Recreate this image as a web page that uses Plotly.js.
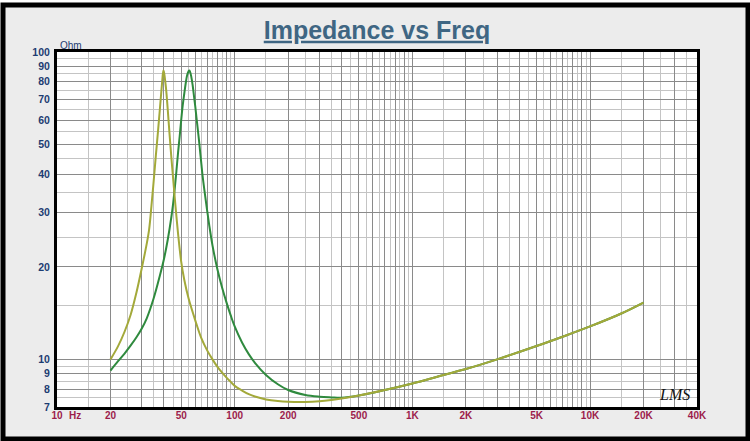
<!DOCTYPE html>
<html>
<head>
<meta charset="utf-8">
<script src="https://cdn.plot.ly/plotly-3.0.1.min.js"></script>
<style>html,body{margin:0;padding:0;background:#fff;}#chart{width:750px;height:441px;}</style>
</head>
<body>
<div id="chart"></div>
<script>
// Yellow curve (lower resonance)
var freqA = [20,22,24,26,28,30,32,33,34,35,36,37,38,39,39.7,40,41,42,43,44,45,46,47,48,50,52,55,60,65,70,75,80,85,90,95,100,110,120,130,150,175,200,250,300,350,400,500,700,1000,1500,2000,3000,5000,7000,10000,15000,20000];
var impA  = [10.0,11.0,12.3,14.0,16.5,19.8,23.8,26.5,31.5,38,46,55,66,79,87,86,77,65,54,45.5,39,33.5,29.2,25.7,20.8,18.2,15.8,13.4,11.7,10.7,10.0,9.45,9.05,8.72,8.45,8.2,7.92,7.71,7.57,7.41,7.32,7.28,7.27,7.31,7.38,7.46,7.63,7.95,8.35,8.9,9.3,10.0,11.05,11.85,12.8,14.1,15.3];
// Green curve (higher resonance)
var freqB = [20,22,24,26,28,30,32,35,38,40,42,44,45,46,47,48,49,50,51,52,53,54,55,55.5,56,57,58,59,60,61,62,63,64,65,66,68,70,72,75,80,85,90,95,100,110,120,130,150,175,200,250,300,350,400,500,700,1000,1500,2000,3000,5000,7000,10000,15000,20000];
var impB  = [9.2,9.85,10.45,11.1,11.8,12.6,13.6,15.8,18.8,21.2,24.5,29.0,32.0,36,41,47,53,60,67,73,79,84,86.5,87,86.5,83,78,72,66.5,61,56,51.5,47,43,39.5,34.5,30.5,27.2,23.5,19.6,17.1,15.3,13.9,12.8,11.35,10.4,9.75,8.9,8.3,7.95,7.66,7.56,7.52,7.5,7.63,7.95,8.35,8.9,9.3,10.0,11.05,11.85,12.8,14.1,15.3];

// Axis ticks and grid
var xMajor = [10,20,30,40,50,60,70,80,90,100,200,300,400,500,600,700,800,900,1000,2000,3000,4000,5000,6000,7000,8000,9000,10000,20000,30000,40000];
var xLabeled = {10:'10',20:'20',50:'50',100:'100',200:'200',500:'500',1000:'1K',2000:'2K',5000:'5K',10000:'10K',20000:'20K',40000:'40K'};
var xMinor = [15,25,35,45,55,65,75,85,95,150,250,350,450,550,650,750,850,950,1500,2500,3500,4500,5500,6500,7500,8500,9500,15000,25000,35000];
var yMajor = [7,8,9,10,20,30,40,50,60,70,80,90,100];
var yLabels = ['7','8','9','10','20','30','40','50','60','70','80','90','100'];
var yMinor = [7.5,8.5,9.5,15,25,35,45,55,65,75,85,95];

var xText = xMajor.map(function(v){ return xLabeled[v] ? '<b>' + xLabeled[v] + '</b>' : ''; });
var yText = yLabels.map(function(t){ return '<b>' + t + '</b>'; });

var traces = [
  {x: freqB, y: impB, type:'scatter', mode:'lines', line:{color:'#2f8a3e', width:2, shape:'spline', smoothing:1}, hoverinfo:'skip'},
  {x: freqA, y: impA, type:'scatter', mode:'lines', line:{color:'#a3a93a', width:2, shape:'spline', smoothing:1}, hoverinfo:'skip'}
];

var layout = {
  width:750, height:441,
  margin:{l:57, r:53, t:52, b:34},
  paper_bgcolor:'#ffffff',
  plot_bgcolor:'#ffffff',
  showlegend:false,
  font:{family:'Liberation Sans, Arial, sans-serif'},
  title:{
    text:'<b><u>Impedance vs Freq</u></b>',
    font:{family:'Liberation Sans, Arial, sans-serif', size:25, color:'#3f6683'},
    x:0.5, xref:'paper', xanchor:'center',
    y:1-30/441, yref:'container', yanchor:'middle'
  },
  xaxis:{
    type:'log', range:[1, Math.log10(40000)],
    tickmode:'array', tickvals:xMajor, ticktext:xText,
    showgrid:true, gridcolor:'#8a8a8a', gridwidth:1,
    minor:{tickmode:'array', tickvals:xMinor, showgrid:true, gridcolor:'#c4c4c4', gridwidth:1, ticks:''},
    ticks:'', ticklabelstandoff:-3,
    tickfont:{family:'Liberation Sans, Arial, sans-serif', size:10, color:'#9c1c4b'},
    showline:true, linecolor:'#000', linewidth:3, mirror:true, zeroline:false, fixedrange:true
  },
  yaxis:{
    type:'log', range:[Math.log10(7), 2],
    tickmode:'array', tickvals:yMajor, ticktext:yText,
    showgrid:true, gridcolor:'#8a8a8a', gridwidth:1,
    minor:{tickmode:'array', tickvals:yMinor, showgrid:true, gridcolor:'#c4c4c4', gridwidth:1, ticks:''},
    ticks:'', ticklabelstandoff:2,
    tickfont:{family:'Liberation Sans, Arial, sans-serif', size:10.5, color:'#1d3c72'},
    showline:true, linecolor:'#000', linewidth:3, mirror:true, zeroline:false, fixedrange:true
  },
  shapes:[
    {type:'rect', xref:'paper', yref:'paper', layer:'below',
     x0:(3-57)/640, x1:(748-57)/640, y0:(407-439)/355, y1:(407-5)/355,
     fillcolor:'#ececec', line:{color:'#000', width:5}},
    {type:'rect', xref:'paper', yref:'paper', layer:'below',
     x0:0, x1:1, y0:0, y1:1, fillcolor:'#ffffff', line:{width:0}}
  ],
  annotations:[
    {text:'Ohm', xref:'paper', yref:'paper', x:1/640, y:(407-45)/355, xanchor:'left', yanchor:'middle',
     showarrow:false, font:{family:'Liberation Sans, Arial, sans-serif', size:10, color:'#1d3c72'}},
    {text:'<b>Hz</b>', xref:'paper', yref:'paper', x:(67-57)/640, y:(407-415)/355, xanchor:'left', yanchor:'middle',
     showarrow:false, font:{family:'Liberation Sans, Arial, sans-serif', size:10, color:'#9c1c4b'}},
    {text:'<i>LMS</i>', xref:'paper', yref:'paper', x:(674-57)/640, y:(407-394)/355, xanchor:'center', yanchor:'middle',
     showarrow:false, font:{family:'Liberation Serif, serif', size:16, color:'#111'}}
  ]
};

Plotly.newPlot('chart', traces, layout, {staticPlot:true, displayModeBar:false});
</script>
</body>
</html>
